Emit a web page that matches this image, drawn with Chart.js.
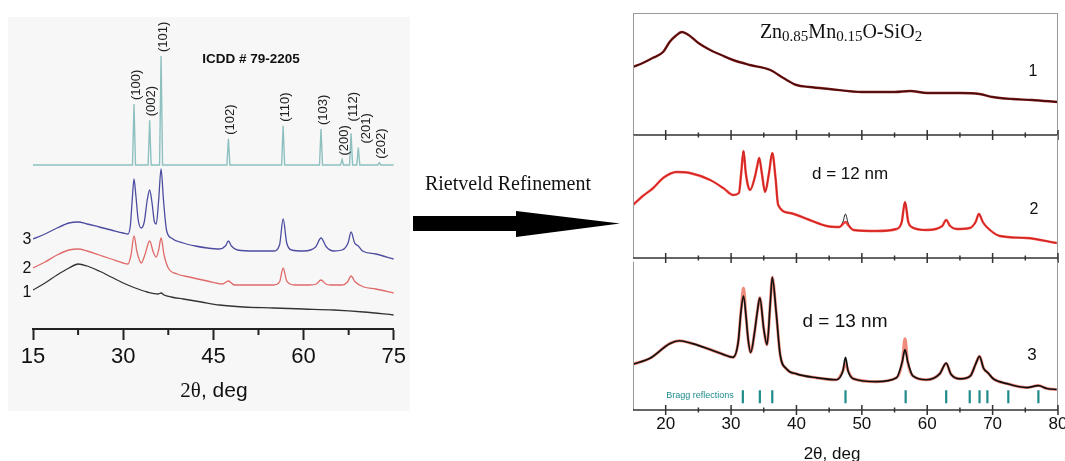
<!DOCTYPE html>
<html>
<head>
<meta charset="utf-8">
<title>XRD Zn0.85Mn0.15O-SiO2</title>
<script src="https://cdn.jsdelivr.net/npm/chart.js@4.4.1/dist/chart.umd.min.js"></script>
<style>
  html, body { margin: 0; padding: 0; background: #fff; }
  body { position: relative; width: 1065px; height: 461px; overflow: hidden; font-family: 'Liberation Sans', Arial, sans-serif; }
  canvas { position: absolute; }
  #xrdLeft { left: 8px; top: 17px; background: #f7f7f7; }
  .p { left: 600px; }
  .t { position: absolute; transform: translate(-50%, -50%); white-space: nowrap; line-height: 1; color: #111; }
  .serif { font-family: 'Liberation Serif', 'Times New Roman', serif; }
  sub { font-size: 15px; vertical-align: -3px; line-height: 1; }
  svg { position: absolute; left: 0; top: 0; }
</style>
</head>
<body>
<canvas id="xrdLeft" width="402" height="394"></canvas>
<canvas id="p1" class="p" width="475" height="134" style="top:8px"></canvas>
<canvas id="p2" class="p" width="475" height="135" style="top:130px"></canvas>
<canvas id="p3" class="p" width="475" height="211" style="top:253px"></canvas>

<svg width="1065" height="461">
  <polygon points="413,216 516,216 516,211 620,223.5 516,237 516,231 413,231" fill="#000"/>
</svg>

<!-- left panel texts -->
<div class="t" style="left:251px;top:59px;font-size:13.5px;font-weight:bold">ICDD # 79-2205</div>
<div class="t" style="left:27px;top:239px;font-size:16px">3</div>
<div class="t" style="left:27px;top:268px;font-size:16px">2</div>
<div class="t" style="left:27px;top:292px;font-size:16px">1</div>
<div class="t" style="left:214px;top:390px;font-size:21px"><span class="serif">2θ</span>, deg</div>

<div class="t serif" style="left:508px;top:183px;font-size:20px">Rietveld Refinement</div>

<!-- right panel texts -->
<div class="t serif" style="left:841px;top:32px;font-size:20px">Zn<sub>0.85</sub>Mn<sub>0.15</sub>O-SiO<sub>2</sub></div>
<div class="t" style="left:1033px;top:71px;font-size:16px">1</div>
<div class="t" style="left:850px;top:173px;font-size:17px">d = 12 nm</div>
<div class="t" style="left:1034px;top:209px;font-size:16px">2</div>
<div class="t" style="left:845px;top:320px;font-size:19px">d = 13 nm</div>
<div class="t" style="left:1032px;top:354px;font-size:17px">3</div>
<div class="t" style="left:700px;top:395px;font-size:9px;color:#1f8b8b">Bragg reflections</div>
<div class="t" style="left:832px;top:453px;font-size:17px">2θ, deg</div>

<script>
// ---------- left panel: 2θ (deg) / intensity (a.u., traces offset) ----------
const leftTicks = [15, 30, 45, 60, 75];
const leftMinor = [22.5, 37.5, 52.5, 67.5];

// ICDD # 79-2205 reference pattern, relative intensity in %
const icddPos = [31.8, 34.4, 36.3, 47.5, 56.6, 62.9, 66.4, 67.9, 69.1, 72.6];
const icddHkl = ['(100)', '(002)', '(101)', '(102)', '(110)', '(103)', '(200)', '(112)', '(201)', '(202)'];
const icddInt = [56, 41, 100, 24, 36, 33, 5, 29, 16, 2];

// sample 3 (blue)
const s3x = [15, 17, 19, 21, 22.5, 24, 26, 28, 30, 30.8, 31.2, 31.5, 31.8, 32.1, 32.5, 33, 33.5, 34, 34.4, 34.8,
  35.2, 35.5, 35.9, 36.3, 36.7, 37.2, 38, 40, 42, 44, 46, 47, 47.5, 48, 49, 52, 55, 56, 56.6, 57.2,
  58, 60, 62, 62.9, 63.8, 65, 66.4, 67.4, 67.9, 68.5, 69.1, 69.8, 72, 75];
const s3y = [90, 95, 101, 106, 107, 105, 102, 99, 96, 95, 104, 129, 150, 134, 109, 101, 107, 129, 139, 126,
  107, 105, 129, 160, 129, 99, 91, 86, 83, 81, 80, 83, 88, 83, 79, 78, 78, 84, 110, 86,
  79, 78, 82, 91, 82, 78, 79, 86, 97, 86, 83, 78, 75, 70];

// sample 2 (red)
const s2x = [15, 17, 19, 21, 22.5, 24, 26, 28, 30, 30.8, 31.3, 31.8, 32.3, 33, 33.6, 34.4, 35, 35.5, 35.9, 36.3,
  36.8, 37.5, 39, 41, 44, 46.5, 47.5, 48.5, 52, 55, 56, 56.6, 57.2, 58.5, 61, 62.1, 62.9, 63.7, 64.5, 66.4,
  67.3, 67.9, 68.6, 70, 72, 75];
const s2y = [61, 67, 74, 79, 80, 78, 74, 70, 66, 65, 74, 93, 77, 66, 74, 88, 77, 72, 79, 91,
  74, 61, 55, 52, 48, 45, 48, 44, 44, 44, 47, 61, 48, 44, 44, 45, 49, 45, 44, 44,
  47, 53, 47, 42, 40, 36];

// sample 1 (black, amorphous)
const s1x = [15, 17, 19, 21, 22.5, 24, 26, 28, 30, 32, 34, 35.8, 36.3, 36.8, 38, 40, 43, 46, 50, 55, 60, 65, 70, 75];
const s1y = [39, 46, 54, 61, 65, 63, 58, 52, 46, 41, 37, 35, 36, 34, 32, 30, 27, 24, 22, 21, 20, 19, 17, 14];

// ---------- right panel: Rietveld refinement (observed / calculated, a.u.) ----------
const rightTicks = [20, 30, 40, 50, 60, 70, 80];
const rightMinor = [25, 35, 45, 55, 65, 75];

const r1x = [15, 16.5, 18, 19.6, 20.6, 21.5, 22.5, 23.5, 24.1, 25, 26.8, 28.5, 30.3, 32.9, 36, 38, 40, 42, 45, 50,
  55, 57.4, 60, 65, 68, 70, 73, 76, 80];
const r1obs = [68, 72, 77, 83, 93, 99, 103, 100, 97, 92, 85, 80, 75, 70, 65, 57, 50, 48, 46, 43,
  43, 44, 42, 42, 41, 38, 36, 35, 33];

const r2x = [15, 16.5, 18.1, 19.6, 21.7, 23.7, 26.8, 28.8, 30.3, 31.2, 31.55, 31.9, 32.25, 32.6, 32.9, 33.6, 34.0, 34.3, 34.7, 35.2,
  35.8, 36.3, 36.8, 37.2, 39, 42, 44.6, 46.6, 47.1, 47.5, 47.9, 48.7, 52.3, 55.3, 56.1, 56.6, 57.1, 57.6, 59.9, 62.3,
  62.9, 63.5, 64.5, 66.5, 67.4, 67.9, 68.5, 69.1, 71.1, 75.2, 79.8];
const r2obs = [53, 62, 70, 80, 86, 85, 78, 70, 63, 65, 85, 107, 85, 72, 68, 80, 92, 100, 85, 66,
  85, 105, 80, 53, 45, 38, 32, 31, 34, 36, 33, 28, 27, 29, 36, 56, 36, 31, 28, 32,
  38, 32, 29, 30, 36, 44, 36, 31, 22, 20, 15];
const r2calc = [53, 62, 70, 80, 86, 85, 78, 70, 63, 65, 85, 107, 85, 72, 68, 80, 92, 100, 85, 66,
  85, 105, 80, 53, 45, 38, 32, 31, 36, 44, 35, 28, 27, 29, 36, 56, 36, 31, 28, 32,
  38, 32, 29, 30, 36, 44, 36, 31, 22, 20, 15];

const r3x = [15, 17.6, 20.6, 22.1, 24.1, 26.8, 28.8, 30.3, 31.1, 31.5, 31.9, 32.3, 32.6, 33.0, 33.6, 34.0, 34.4, 35.0, 35.5, 36.0,
  36.3, 36.9, 37.5, 38.5, 40, 43.1, 46.1, 47.1, 47.5, 47.9, 48.7, 52.3, 55.3, 56.2, 56.6, 57.0, 57.8, 59.9, 61.9, 62.9,
  63.6, 65.1, 66.6, 67.4, 68.0, 68.6, 69.3, 70.1, 72.2, 75.2, 77.0, 78.3, 79.8];
const r3calc = [47, 53, 68, 71, 68, 62, 57, 54, 70, 100, 117, 95, 73, 59, 80, 100, 115, 83, 67, 110,
  136, 100, 57, 42, 37, 33, 31, 40, 54, 40, 32, 29, 33, 50, 62, 50, 35, 31, 37, 48,
  37, 32, 35, 47, 55, 43, 38, 32, 27, 23, 25, 22, 21];
const r3obs = [47, 53, 68, 71, 68, 62, 57, 54, 70, 100, 125, 95, 73, 59, 80, 100, 115, 83, 67, 110,
  136, 100, 57, 42, 37, 33, 31, 40, 48, 40, 32, 29, 33, 50, 73, 50, 35, 31, 37, 48,
  37, 32, 35, 47, 55, 43, 38, 32, 27, 23, 25, 22, 21];
const braggPos = [31.8, 34.4, 36.3, 47.5, 56.7, 62.9, 66.5, 68.0, 69.2, 72.4, 77.0];

// ---------- display constants ----------
const font = "'Liberation Sans', Arial, sans-serif";
const icddBase = 164, icddScale = 1.09, icddHalf = 0.25;  // offset / height / half width of the stick trace
const hklShift = { '(112)': [0, -8], '(201)': [6, 0] };   // nudges for crowded labels
const braggLevel = 13.5;

const pts = (xs, ys) => xs.map((x, i) => ({ x, y: ys[i] }));

// stick pattern as a line
const icddLine = [{ x: 15, y: icddBase }];
icddPos.forEach((p, i) => {
  icddLine.push({ x: p - icddHalf, y: icddBase }, { x: p, y: icddBase + icddInt[i] * icddScale }, { x: p + icddHalf, y: icddBase });
});
icddLine.push({ x: 75, y: icddBase });

// (hkl) labels above the sticks
const hklLabels = {
  id: 'hklLabels',
  afterDatasetsDraw(chart) {
    const { ctx, scales: { x, y } } = chart;
    ctx.save();
    ctx.font = '13px ' + font;
    ctx.fillStyle = '#222';
    ctx.textAlign = 'left';
    ctx.textBaseline = 'middle';
    icddPos.forEach((p, i) => {
      const sh = hklShift[icddHkl[i]] || [0, 0];
      const px = x.getPixelForValue(p) + 2 + sh[0];
      const py = y.getPixelForValue(icddBase + icddInt[i] * icddScale) - 4 + sh[1];
      ctx.save();
      ctx.translate(px, py);
      ctx.rotate(-Math.PI / 2);
      ctx.fillText(icddHkl[i], 0, 0);
      ctx.restore();
    });
    ctx.restore();
  }
};

// short minor ticks under the left x axis
const leftMinorTicks = {
  id: 'leftMinorTicks',
  afterDraw(chart) {
    const { ctx, chartArea: a, scales: { x } } = chart;
    ctx.save();
    ctx.strokeStyle = '#222';
    ctx.lineWidth = 2;
    ctx.beginPath();
    leftMinor.forEach(v => {
      const px = x.getPixelForValue(v);
      ctx.moveTo(px, a.bottom);
      ctx.lineTo(px, a.bottom + 6);
    });
    ctx.stroke();
    ctx.restore();
  }
};

// note: first dataset is drawn on top
new Chart(document.getElementById('xrdLeft'), {
  type: 'line',
  data: {
    datasets: [
      { data: icddLine, borderColor: '#8fc0c0', borderWidth: 1.4, tension: 0, cubicInterpolationMode: 'default' },
      { data: pts(s3x, s3y), borderColor: '#4c4ca0', borderWidth: 1.3 },
      { data: pts(s2x, s2y), borderColor: '#e06a6a', borderWidth: 1.3 },
      { data: pts(s1x, s1y), borderColor: '#333333', borderWidth: 1.3 }
    ]
  },
  options: {
    responsive: false,
    animation: false,
    layout: { padding: { left: 25, right: 14, top: 3, bottom: 0 } },
    elements: { point: { radius: 0 }, line: { cubicInterpolationMode: 'monotone' } },
    plugins: { legend: { display: false }, tooltip: { enabled: false } },
    scales: {
      x: {
        type: 'linear', min: 15, max: 75,
        afterBuildTicks: s => { s.ticks = leftTicks.map(v => ({ value: v })); },
        afterFit: s => { s.height = 82; },
        border: { display: true, color: '#222', width: 2 },
        grid: { drawOnChartArea: false, tickLength: 11, tickColor: '#222', tickWidth: 2 },
        ticks: { color: '#111', padding: 4, maxRotation: 0, autoSkip: false, font: { family: font, size: 22 } }
      },
      y: { display: false, min: 0, max: 309 }
    }
  },
  plugins: [leftMinorTicks, hklLabels]
});

// frame + crossing ticks of one Rietveld panel
function panelFrame(drawTop) {
  return {
    id: 'panelFrame',
    afterDatasetsDraw(chart) {
      const { ctx, chartArea: a, scales: { x } } = chart;
      ctx.save();
      ctx.strokeStyle = '#9a9a9a';
      ctx.lineWidth = 1;
      ctx.beginPath();
      ctx.moveTo(a.left + 0.5, a.top); ctx.lineTo(a.left + 0.5, a.bottom);
      ctx.moveTo(a.right - 0.5, a.top); ctx.lineTo(a.right - 0.5, a.bottom);
      if (drawTop) { ctx.moveTo(a.left, a.top + 0.5); ctx.lineTo(a.right, a.top + 0.5); }
      ctx.stroke();
      ctx.strokeStyle = '#333';
      ctx.lineWidth = 1.5;
      ctx.beginPath();
      ctx.moveTo(a.left, a.bottom); ctx.lineTo(a.right, a.bottom);
      rightTicks.forEach(v => {
        const px = x.getPixelForValue(v);
        ctx.moveTo(px, a.bottom - 5); ctx.lineTo(px, a.bottom + 5);
      });
      rightMinor.forEach(v => {
        const px = x.getPixelForValue(v);
        ctx.moveTo(px, a.bottom - 2.5); ctx.lineTo(px, a.bottom + 2.5);
      });
      ctx.stroke();
      ctx.restore();
    }
  };
}

function rightPanel(id, datasets, yMax, last, drawTop) {
  const xScale = {
    type: 'linear', min: 15, max: 80, display: last,
    afterBuildTicks: s => { s.ticks = rightTicks.map(v => ({ value: v })); },
    border: { display: false },
    grid: { display: false, drawTicks: false },
    ticks: { color: '#111', padding: 4, maxRotation: 0, autoSkip: false, font: { family: font, size: 17 } }
  };
  if (last) xScale.afterFit = s => { s.height = 54; };
  return new Chart(document.getElementById(id), {
    type: 'line',
    data: { datasets },
    options: {
      responsive: false,
      animation: false,
      layout: { padding: { left: 33, right: 17, top: 5, bottom: last ? 0 : 7 } },
      elements: { point: { radius: 0 }, line: { cubicInterpolationMode: 'monotone' } },
      plugins: { legend: { display: false }, tooltip: { enabled: false } },
      scales: { x: xScale, y: { display: false, min: 0, max: yMax } }
    },
    plugins: [panelFrame(drawTop)]
  });
}

rightPanel('p1', [
  { data: pts(r1x, r1obs), borderColor: '#2a0a0a', borderWidth: 0.8 },   // fit overlaps the data
  { data: pts(r1x, r1obs), borderColor: '#7d1414', borderWidth: 2.4 }
], 122, false, true);

rightPanel('p2', [
  { data: pts(r2x, r2obs), borderColor: 'rgba(232, 30, 26, 0.85)', borderWidth: 2.4 },
  { data: pts(r2x, r2calc), borderColor: '#222', borderWidth: 1 }
], 123, false, false);

rightPanel('p3', [
  {
    data: braggPos.map(p => ({ x: p, y: braggLevel })), showLine: false,
    pointStyle: 'line', pointRadius: 6.5, pointRotation: 90,
    pointBorderColor: '#1f8b8b', pointBorderWidth: 2.2
  },
  { data: pts(r3x, r3calc), borderColor: '#111', borderWidth: 1.7 },
  { data: pts(r3x, r3obs), borderColor: '#f08c7c', borderWidth: 3 }
], 152, true, false);
</script>
</body>
</html>
